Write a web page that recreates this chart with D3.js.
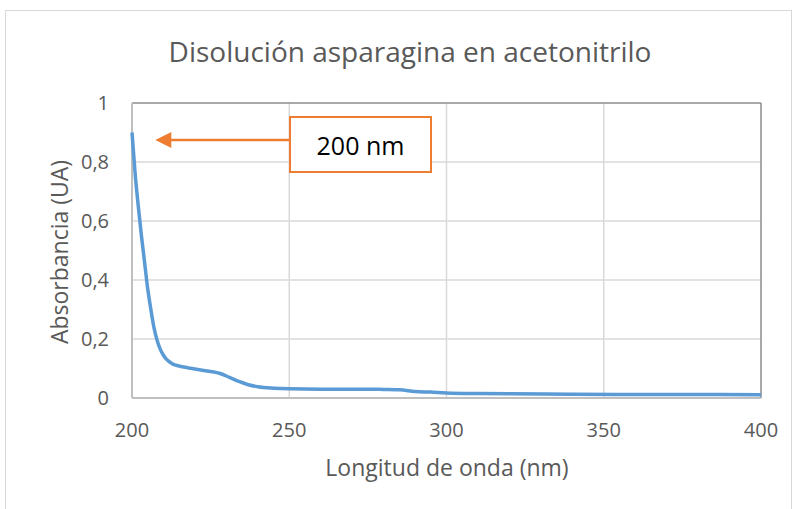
<!DOCTYPE html>
<html>
<head>
<meta charset="utf-8">
<script src="https://cdn.jsdelivr.net/npm/d3@7"></script>
<style>
  body { margin: 0; background: #fff; }
  text { font-family: "Open Sans", sans-serif; }
</style>
</head>
<body>
<div class="container"></div>
<script>
const width = 797;
const height = 509;

// spectrum
const wavelengths = [200, 201, 202, 203, 204, 205, 206, 207, 208, 209, 210, 211, 212, 213, 214, 216, 218, 220, 225, 228, 231, 234, 237, 240, 245, 250, 260, 270, 280, 285, 290, 295, 300, 310, 320, 340, 360, 380, 400];
const absorbance = [0.90, 0.76, 0.65, 0.55, 0.46, 0.37, 0.30, 0.238, 0.195, 0.165, 0.145, 0.131, 0.122, 0.115, 0.111, 0.106, 0.102, 0.098, 0.090, 0.083, 0.070, 0.056, 0.045, 0.038, 0.033, 0.031, 0.030, 0.030, 0.029, 0.028, 0.022, 0.020, 0.017, 0.015, 0.014, 0.013, 0.012, 0.012, 0.011];

const xTicks = [200, 250, 300, 350, 400];
const yTicks = [0, 0.2, 0.4, 0.6, 0.8, 1];

const title = 'Disolución asparagina en acetonitrilo';
const xTitle = 'Longitud de onda (nm)';
const yTitle = 'Absorbancia (UA)';
const note = '200 nm';
const noteTarget = [202, 0.875];

const plot = { left: 132, right: 761, top: 103, bottom: 398 };

const x = d3.scaleLinear().domain([200, 400]).range([plot.left, plot.right]);
const y = d3.scaleLinear().domain([0, 1]).range([plot.bottom, plot.top]);

const svg = d3.select('.container')
    .append('svg')
    .attr('width', width)
    .attr('height', height);

// outer chart frame
svg.append('rect')
    .attr('x', 5.5).attr('y', 10.5)
    .attr('width', 786).attr('height', 520)
    .attr('fill', 'none')
    .attr('stroke', '#d9d9d9');

svg.append('text')
    .attr('x', 410).attr('y', 62)
    .attr('text-anchor', 'middle')
    .attr('font-size', 28)
    .attr('fill', '#595959')
    .text(title);

// gridlines
svg.append('g')
    .selectAll('line')
    .data(yTicks.filter(d => d > 0 && d < 1))
    .enter().append('line')
    .attr('x1', plot.left).attr('x2', plot.right)
    .attr('y1', d => y(d)).attr('y2', d => y(d))
    .attr('stroke', '#d9d9d9').attr('stroke-width', 1.5);

svg.append('g')
    .selectAll('line')
    .data(xTicks.filter(d => d > 200 && d < 400))
    .enter().append('line')
    .attr('y1', plot.top).attr('y2', plot.bottom)
    .attr('x1', d => x(d)).attr('x2', d => x(d))
    .attr('stroke', '#d9d9d9').attr('stroke-width', 1.5);

// frame: top and right darker, left and bottom lighter
svg.append('line')
    .attr('x1', plot.left).attr('x2', plot.right)
    .attr('y1', plot.top).attr('y2', plot.top)
    .attr('stroke', '#8c8c8c').attr('stroke-width', 1.5);
svg.append('line')
    .attr('x1', plot.right).attr('x2', plot.right)
    .attr('y1', plot.top).attr('y2', plot.bottom)
    .attr('stroke', '#8c8c8c').attr('stroke-width', 1.5);
svg.append('line')
    .attr('x1', plot.left).attr('x2', plot.left)
    .attr('y1', plot.top).attr('y2', plot.bottom)
    .attr('stroke', '#bfbfbf').attr('stroke-width', 2);
svg.append('line')
    .attr('x1', plot.left).attr('x2', plot.right)
    .attr('y1', plot.bottom).attr('y2', plot.bottom)
    .attr('stroke', '#bfbfbf').attr('stroke-width', 2);

// tick labels
svg.append('g')
    .selectAll('text')
    .data(yTicks)
    .enter().append('text')
    .attr('x', 109)
    .attr('y', d => y(d) + 7)
    .attr('text-anchor', 'end')
    .attr('font-size', 20)
    .attr('fill', '#595959')
    .text(d => d3.format('~g')(d).replace('.', ','));

svg.append('g')
    .selectAll('text')
    .data(xTicks)
    .enter().append('text')
    .attr('x', d => x(d))
    .attr('y', 437)
    .attr('text-anchor', 'middle')
    .attr('font-size', 20)
    .attr('fill', '#595959')
    .text(d => d);

svg.append('text')
    .attr('x', 447).attr('y', 476)
    .attr('text-anchor', 'middle')
    .attr('font-size', 23)
    .attr('fill', '#595959')
    .text(xTitle);

svg.append('text')
    .attr('transform', 'translate(68,252) rotate(-90)')
    .attr('text-anchor', 'middle')
    .attr('font-size', 23)
    .attr('fill', '#595959')
    .text(yTitle);

// spectrum
const points = wavelengths.map((w, i) => [w, absorbance[i]]);
svg.append('path')
    .datum(points)
    .attr('fill', 'none')
    .attr('stroke', '#5b9bd5')
    .attr('stroke-width', 3.5)
    .attr('stroke-linejoin', 'round')
    .attr('d', d3.line()
        .x(d => x(d[0]))
        .y(d => y(d[1]))
        .curve(d3.curveMonotoneX));

// annotation box + arrow
const box = { x: 290, y: 117, w: 141, h: 55 };
const arrowY = y(noteTarget[1]);
const tipX = x(noteTarget[0]) + 17;

svg.append('line')
    .attr('x1', box.x).attr('x2', tipX + 14)
    .attr('y1', arrowY).attr('y2', arrowY)
    .attr('stroke', '#ed7d31').attr('stroke-width', 2.5);
svg.append('path')
    .attr('d', `M${tipX},${arrowY} L${tipX + 16},${arrowY - 8} L${tipX + 16},${arrowY + 8} Z`)
    .attr('fill', '#ed7d31');

svg.append('rect')
    .attr('x', box.x).attr('y', box.y)
    .attr('width', box.w).attr('height', box.h)
    .attr('fill', '#fff')
    .attr('stroke', '#ed7d31').attr('stroke-width', 2);

svg.append('text')
    .attr('x', box.x + box.w / 2).attr('y', box.y + 38)
    .attr('text-anchor', 'middle')
    .attr('font-size', 25)
    .attr('fill', '#000')
    .text(note);
</script>
</body>
</html>
